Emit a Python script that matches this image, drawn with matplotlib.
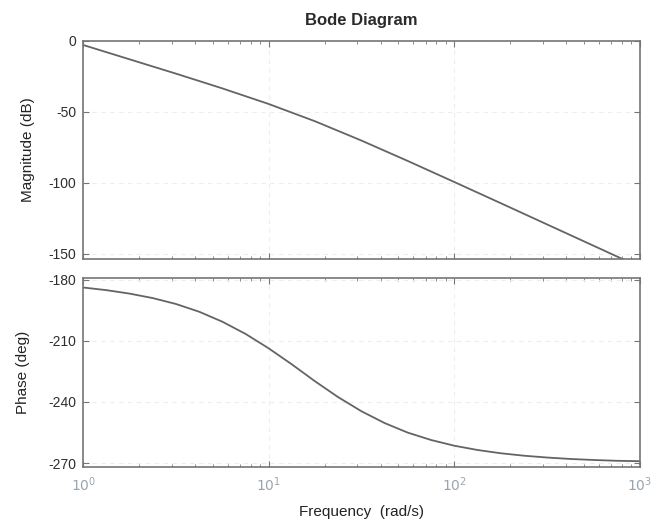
import numpy as np
import matplotlib
matplotlib.use("Agg")
import matplotlib.pyplot as plt
from matplotlib.ticker import LogLocator, NullFormatter, FixedLocator

# Frequencies (rad/s) at which values were read
mag_freq = [1.0, 1.778, 3.162, 5.623, 10.0, 17.78, 31.62, 56.23, 100.0,
            177.8, 316.2, 562.3, 1000.0]
mag_db = [-3.0, -13.1, -23.2, -33.6, -44.6, -56.8, -70.4, -84.8, -99.6,
          -114.5, -129.5, -144.5, -159.5]

phase_freq = [1.0, 1.334, 1.778, 2.371, 3.162, 4.217, 5.623, 7.499, 10.0,
              13.34, 17.78, 23.71, 31.62, 42.17, 56.23, 74.99, 100.0,
              133.4, 177.8, 237.1, 316.2, 421.7, 562.3, 749.9, 1000.0]
phase_deg = [-183.8, -185.1, -186.8, -189.0, -191.9, -195.7, -200.6, -206.6,
             -213.7, -221.6, -229.9, -237.7, -244.6, -250.4, -255.1, -258.7,
             -261.5, -263.6, -265.2, -266.4, -267.3, -268.0, -268.5, -268.9,
             -269.1]

mag_ticks = [0, -50, -100, -150]
phase_ticks = [-180, -210, -240, -270]
freq_ticks = [1, 10, 100, 1000]
freq_labels = ["$10^0$", "$10^1$", "$10^2$", "$10^3$"]

plt.rcParams['font.family'] = ['Liberation Sans', 'DejaVu Sans']
plt.rcParams['axes.unicode_minus'] = False

fig = plt.figure(figsize=(6.55, 5.29), dpi=100)
ax1 = fig.add_axes([0.127, 0.510, 0.850, 0.413])
ax2 = fig.add_axes([0.127, 0.117, 0.850, 0.358])

line_col = "#646464"
frame_col = "#767676"

for ax in (ax1, ax2):
    ax.set_xscale("log")
    ax.set_xlim(1, 1000)
    for s in ax.spines.values():
        s.set_color(frame_col)
        s.set_linewidth(1.2)
    ax.tick_params(which="both", direction="in", top=True, right=True,
                   color=frame_col)
    ax.tick_params(which="major", length=4)
    ax.tick_params(which="minor", length=2)
    ax.xaxis.set_minor_locator(LogLocator(base=10, subs=np.arange(2, 10)))
    ax.xaxis.set_minor_formatter(NullFormatter())
    ax.grid(True, which="major", color="#ededed", linestyle=(0, (4, 4)),
            linewidth=0.8)
    ax.tick_params(axis="y", labelsize=10, labelcolor="#2e2e2e", pad=5)

ax1.plot(mag_freq, mag_db, color=line_col, linewidth=1.3)
ax1.set_ylim(-154, 0)
ax1.yaxis.set_major_locator(FixedLocator(mag_ticks))
ax1.set_xticks(freq_ticks)
ax1.set_xticklabels([])
ax1.set_ylabel("Magnitude (dB)", fontsize=11, color="#222222", labelpad=10)
ax1.set_title("Bode Diagram", fontsize=12, fontweight="bold",
              color="#2a2a2a", pad=11)

ax2.plot(phase_freq, phase_deg, color=line_col, linewidth=1.3)
ax2.set_ylim(-272, -179)
ax2.yaxis.set_major_locator(FixedLocator(phase_ticks))
ax2.set_xticks(freq_ticks)
ax2.set_xticklabels(freq_labels, fontsize=10, color="#9aa4ad")
ax2.tick_params(axis="x", pad=6)
ax2.set_ylabel("Phase (deg)", fontsize=11, color="#222222", labelpad=13)
ax2.set_xlabel("Frequency  (rad/s)", fontsize=11, color="#222222",
               labelpad=8)

fig.savefig("out.png", dpi=100, facecolor="white")
